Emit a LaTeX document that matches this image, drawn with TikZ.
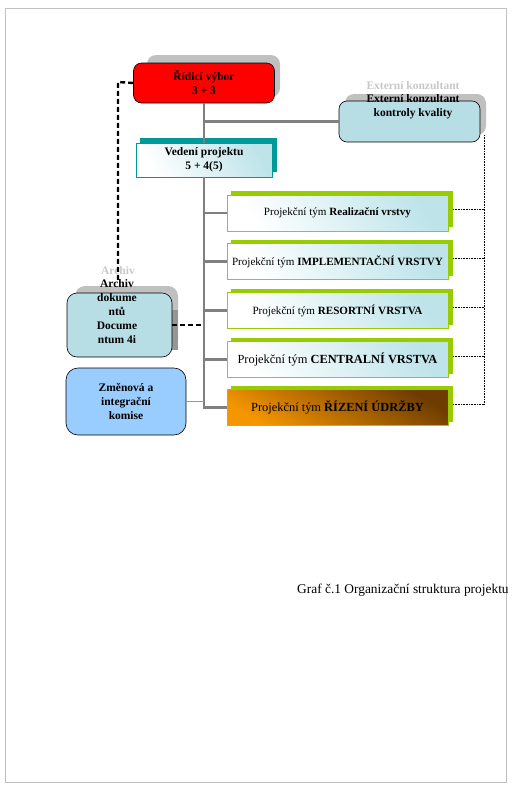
\documentclass[tikz,border=0pt]{standalone}
\usepackage{fontspec}
\setmainfont{Liberation Serif}
\usetikzlibrary{calc}
\definecolor{redbox}{RGB}{255,0,0}
\definecolor{shadowgray}{RGB}{192,192,192}
\definecolor{darkgray2}{RGB}{150,150,150}
\definecolor{lblue}{RGB}{183,222,228}
\definecolor{mblue}{RGB}{153,204,255}
\definecolor{tealc}{RGB}{0,153,153}
\definecolor{greenc}{RGB}{153,204,0}
\definecolor{lcyan}{RGB}{190,228,234}
\definecolor{brownd}{RGB}{110,60,0}
\definecolor{orangec}{RGB}{245,150,0}
\definecolor{linegray}{RGB}{128,128,128}
\definecolor{ghost}{RGB}{200,200,200}
\begin{document}
\begin{tikzpicture}[x=1pt,y=-1pt,
  boldtxt/.style={font=\bfseries\fontsize{11.5}{14}\selectfont, align=center, inner sep=0pt},
  roundbox/.style={draw=black, line width=0.6pt, inner sep=0pt, align=center},
  teambox/.style={draw=greenc, line width=0.6pt, minimum width=221pt, minimum height=36pt,
     left color=white, right color=lcyan, shading angle=120, inner sep=0pt,
     font=\fontsize{11.1}{13}\selectfont},
  greenshadow/.style={fill=greenc},
  connector/.style={draw=linegray, line width=2.6pt},
  thinconn/.style={draw=linegray!80, line width=1.6pt},
  dotconn/.style={draw=black, densely dotted, line width=0.6pt},
  thickdash/.style={draw=black, line width=2.4pt, dash pattern=on 5pt off 3pt},
  ghosttxt/.style={text=ghost, font=\bfseries\fontsize{11.5}{12}\selectfont, inner sep=0pt}
]
\useasboundingbox (0,0) rectangle (513,788);
% page border
\draw[draw=shadowgray, line width=1pt] (5,8) rectangle (506,782);

% ghost texts
\node[ghosttxt] (eghost) at (413,86) {Externí konzultant};
\node[ghosttxt] (aghost) at (118,271) {Archiv};

% shadows
\fill[shadowgray, rounded corners=9pt] (147,55) rectangle (280,97);
\fill[shadowgray, rounded corners=9pt] (345,94) rectangle (486,135);
\fill[shadowgray, rounded corners=10pt] (75,286) rectangle (178,350);
\fill[darkgray2] (171,310) rectangle (178,350);
\fill[tealc] (140,138) rectangle (277,172);

% main boxes
\node[roundbox, fill=redbox, rounded corners=8pt, minimum width=141pt, minimum height=40pt, boldtxt] (r) at (204,83) {Řídicí výbor\\3 + 3};
\node[roundbox, fill=lblue, rounded corners=8pt, minimum width=141pt, minimum height=41pt] (e) at (409.5,121.5) {};
\node[boldtxt] (etext) at (413,107) {Externí konzultant\\kontroly kvality};
\node[draw=tealc, line width=0.6pt, left color=white, right color=lcyan, shading angle=120,
      minimum width=136pt, minimum height=34pt, boldtxt] (v) at (204,160) {Vedení projektu\\5 + 4(5)};

% team boxes with green shadows
\foreach \yy in {213,261.5,310.5,359.5,407.5}{
  \fill[greenshadow] (231,\yy-22) rectangle (453,\yy+14);
}
\node[teambox] (t1) at (337.5,213) {Projekční tým \textbf{Realizační vrstvy}};
\node[teambox] (t2) at (337.5,261.5) {Projekční tým \textbf{IMPLEMENTAČNÍ VRSTVY}};
\node[teambox] (t3) at (337.5,310.5) {Projekční tým \textbf{RESORTNÍ VRSTVA}};
\node[teambox, font=\fontsize{12.4}{14}\selectfont] (t4) at (337.5,359.5) {Projekční tým \textbf{CENTRALNÍ VRSTVA}};
\node[teambox, font=\fontsize{12.4}{14}\selectfont, left color=orangec, right color=brownd, shading angle=150] (t5) at (337.5,407.5) {Projekční tým \textbf{ŘÍZENÍ ÚDRŽBY}};

% left boxes
\node[roundbox, fill=lblue, rounded corners=10pt, minimum width=105pt, minimum height=64pt] (a) at (119.5,325) {};
\node[boldtxt] (atext) at (117,312) {Archiv\\dokume\\ntů\\Docume\\ntum 4i};
\node[roundbox, fill=mblue, rounded corners=12pt, minimum width=120pt, minimum height=67pt, boldtxt] (z) at (126,401.5) {Změnová a\\integrační\\komise};

% connectors
\coordinate (trunkend) at (204,408.5);
\coordinate (branchE) at (204,121.5);
\draw[connector] (r.south) -- (v.north);
\draw[connector] (branchE) -- (e.west);
\draw[connector] (v.south) -- (trunkend);
\foreach \t in {t1,t2,t3,t4,t5}{
  \draw[connector] (v.south |- \t.west) -- (\t.west);
}
\draw[thinconn] (z.east) -- (v.south |- z.east);

% dotted right connector
\coordinate (dtop) at (484,135);
\coordinate (dbot) at (484,404.5);
\draw[dotconn] (dtop) -- (dbot);
\draw[dotconn] (453,209) -- (dtop |- 0,209);
\draw[dotconn] (453,258) -- (dtop |- 0,258);
\draw[dotconn] (453,307) -- (dtop |- 0,307);
\draw[dotconn] (453,356) -- (dtop |- 0,356);
\draw[dotconn] (453,404.5) -- (dbot);

% thick dashed
\coordinate (dcorner) at (118,82);
\coordinate (dend) at (118,281);
\draw[thickdash] (r.west) -- (dcorner) -- (dend);
\draw[thickdash] (a.east) -- (v.south |- a.east);

% caption
\node[anchor=west, inner sep=0pt, font=\fontsize{13.4}{15}\selectfont] (cap) at (297,590) {Graf č.1 Organizační struktura projektu};
\end{tikzpicture}
\end{document}
